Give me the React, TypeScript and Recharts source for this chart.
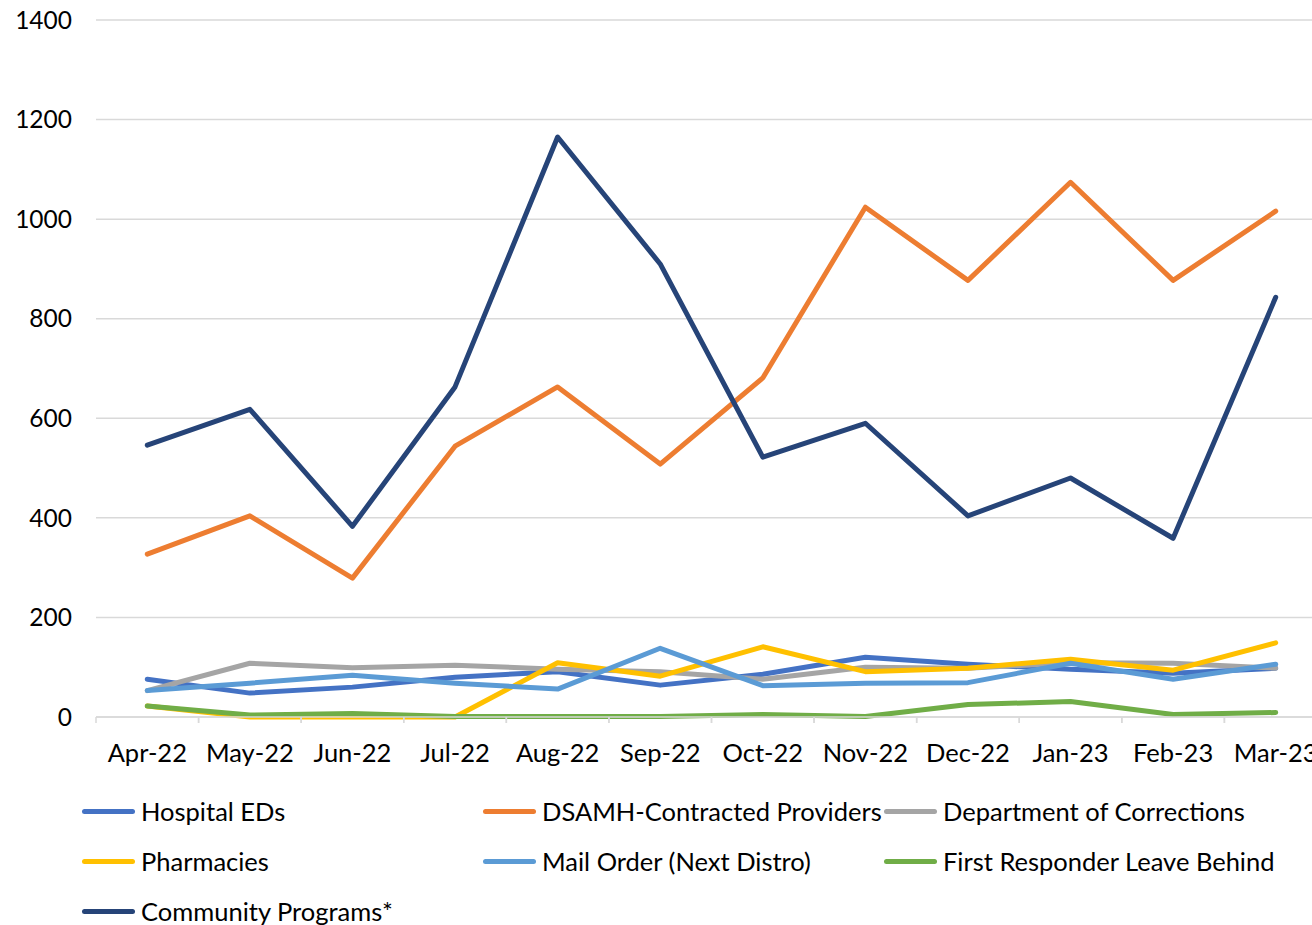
import React from "react";
import { LineChart, Line, XAxis, YAxis, CartesianGrid } from "recharts";

const months = ["Apr-22", "May-22", "Jun-22", "Jul-22", "Aug-22", "Sep-22", "Oct-22", "Nov-22", "Dec-22", "Jan-23", "Feb-23", "Mar-23"];
const hospitalEDs = [76, 48, 60, 80, 91, 64, 86, 120, 106, 96, 88, 98];
const dsamh = [327, 404, 279, 544, 663, 508, 681, 1024, 877, 1074, 877, 1016];
const corrections = [53, 108, 99, 104, 96, 91, 76, 100, 98, 109, 108, 98];
const pharmacies = [22, 0, 0, 0, 109, 82, 141, 91, 98, 116, 94, 149];
const mailOrder = [53, 68, 84, 68, 56, 138, 63, 68, 69, 108, 76, 106];
const firstResponder = [22, 4, 7, 1, 1, 1, 5, 1, 25, 31, 5, 9];
const community = [546, 618, 383, 663, 1165, 910, 522, 590, 404, 480, 359, 843];
const yTicks = [0, 200, 400, 600, 800, 1000, 1200, 1400];

const series = [
  { key: "hosp", name: "Hospital EDs", color: "#4472C4", values: hospitalEDs },
  { key: "dsamh", name: "DSAMH-Contracted Providers", color: "#ED7D31", values: dsamh },
  { key: "doc", name: "Department of Corrections", color: "#A5A5A5", values: corrections },
  { key: "pharm", name: "Pharmacies", color: "#FFC000", values: pharmacies },
  { key: "mail", name: "Mail Order (Next Distro)", color: "#5B9BD5", values: mailOrder },
  { key: "first", name: "First Responder Leave Behind", color: "#70AD47", values: firstResponder },
  { key: "comm", name: "Community Programs*", color: "#264478", values: community },
];

const data = months.map((m, i) => {
  const row: any = { month: m };
  series.forEach((s) => (row[s.key] = s.values[i]));
  return row;
});

const FONT = "Lato, 'Noto Sans', sans-serif";
const CHART_W = 1327;
const LEFT = 96;
const BAND = (CHART_W - LEFT) / months.length;

const XTick = (props: any) => {
  const { x, y, payload } = props;
  return (
    <g>
      <line x1={x - BAND / 2} x2={x - BAND / 2} y1={y - 8} y2={y - 2} stroke="#d9d9d9" strokeWidth={1.5} />
      <line x1={x + BAND / 2} x2={x + BAND / 2} y1={y - 8} y2={y - 2} stroke="#d9d9d9" strokeWidth={1.5} />
      <text x={x} y={y + 37} textAnchor="middle" fill="#000" fontSize={25.5} fontFamily={FONT}>
        {payload.value}
      </text>
    </g>
  );
};

export default function App() {
  return (
    <div style={{ position: "absolute", left: 0, top: 0, width: 1312, height: 925, overflow: "hidden", background: "#fff", fontFamily: FONT }}>
      <LineChart width={CHART_W} height={780} data={data} margin={{ top: 20, right: 0, bottom: 0, left: 0 }}>
        <CartesianGrid vertical={false} stroke="#d9d9d9" strokeWidth={1.5} />
        <XAxis dataKey="month" height={63} padding={{ left: BAND / 2, right: BAND / 2 }} axisLine={{ stroke: "#d9d9d9", strokeWidth: 1.5 }} tickLine={false} tick={<XTick />} interval={0} />
        <YAxis width={LEFT} domain={[0, 1400]} ticks={yTicks} axisLine={false} tickLine={false} tickMargin={18} tick={{ fill: "#000", fontSize: 24.5, fontFamily: FONT }} />
        {series.map((s) => (
          <Line key={s.key} dataKey={s.key} name={s.name} stroke={s.color} strokeWidth={5} dot={false} isAnimationActive={false} strokeLinejoin="round" strokeLinecap="round" />
        ))}
      </LineChart>
      {series.map((s, i) => {
        const col = i % 3;
        const row = Math.floor(i / 3);
        return (
          <div key={s.key} style={{ position: "absolute", left: 82 + col * 401, top: 811 + row * 50 - 15, height: 30, display: "flex", alignItems: "center", whiteSpace: "nowrap" }}>
            <div style={{ width: 53, height: 5, borderRadius: 3, background: s.color }} />
            <span style={{ marginLeft: 6, fontSize: 25.5, color: "#000", fontFamily: FONT }}>{s.name}</span>
          </div>
        );
      })}
    </div>
  );
}
